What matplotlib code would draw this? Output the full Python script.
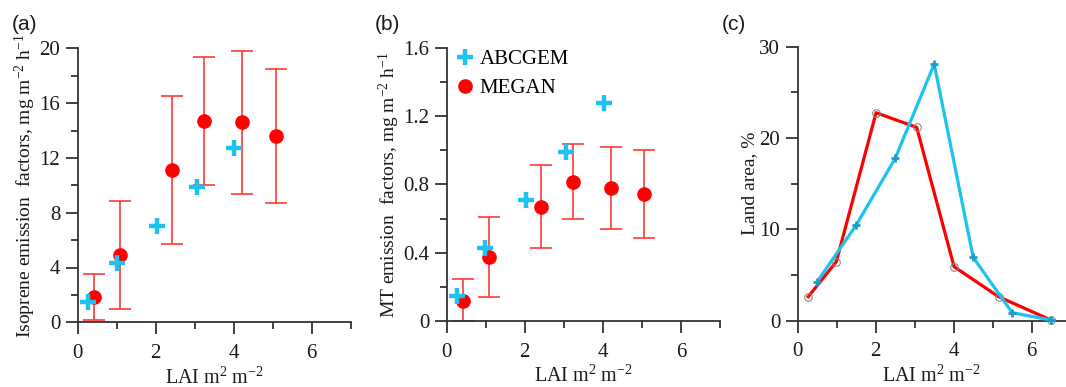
import matplotlib
matplotlib.use("Agg")
import matplotlib.pyplot as plt
from matplotlib.ticker import MultipleLocator, FuncFormatter

plt.rcParams['font.family'] = ['Liberation Serif', 'DejaVu Serif']
plt.rcParams['mathtext.fontset'] = 'custom'
plt.rcParams['mathtext.rm'] = 'Liberation Serif'
plt.rcParams['mathtext.it'] = 'Liberation Serif:italic'

# ---- data ----
# panel (a) isoprene
abc_iso_x = [0.27, 1.0, 2.03, 3.07, 4.01]
abc_iso_y = [1.46, 4.3, 7.05, 9.9, 12.75]
meg_iso_x = [0.42, 1.08, 2.42, 3.24, 4.2, 5.08]
meg_iso_y = [1.87, 4.9, 11.1, 14.7, 14.6, 13.6]
meg_iso_hi = [3.5, 8.85, 16.55, 19.4, 19.8, 18.5]
meg_iso_lo = [0.17, 0.97, 5.7, 10.0, 9.4, 8.7]

# panel (b) monoterpenes
abc_mt_x = [0.26, 0.98, 2.03, 3.06, 4.02]
abc_mt_y = [0.146, 0.425, 0.708, 0.99, 1.274]
meg_mt_x = [0.43, 1.09, 2.42, 3.23, 4.2, 5.06]
meg_mt_y = [0.117, 0.373, 0.667, 0.816, 0.78, 0.743]
meg_mt_hi = [0.244, 0.609, 0.913, 1.036, 1.02, 1.001]
meg_mt_lo = [0.0, 0.142, 0.425, 0.597, 0.539, 0.488]

# panel (c) land area distribution
meg_land_x = [0.27, 0.99, 2.01, 3.05, 4.01, 5.15, 6.49]
meg_land_y = [2.63, 6.46, 22.77, 21.17, 5.91, 2.63, 0.07]
abc_land_x = [0.5, 1.5, 2.5, 3.5, 4.5, 5.5, 6.49]
abc_land_y = [4.27, 10.47, 17.77, 28.1, 6.93, 0.88, 0.07]

CYAN = '#1CC3F0'
CYAN_D = '#1A9EC4'
RED = '#FF0000'
RED_E = '#FF3A3A'
SPINE = '#333333'
TXT = '#1a1a1a'

fig = plt.figure(figsize=(10.66, 3.87), dpi=100)
W, H = 1066, 387

def mkax(left, right, bottom, top):
    return fig.add_axes([left / W, 1 - bottom / H, (right - left) / W, (bottom - top) / H])

axa = mkax(77.7, 350.7, 322.3, 48.3)
axb = mkax(446.7, 720.0, 321.0, 47.7)
axc = mkax(797.7, 1066.0, 320.7, 46.7)

def fmt(v, pos):
    if abs(v) < 1e-9:
        return '0'
    if abs(v - round(v)) < 1e-9:
        return '%d' % round(v)
    return '%.1f' % v

def style(ax, ymaj, ymin):
    for s in ['top', 'right']:
        ax.spines[s].set_visible(False)
    for s in ['left', 'bottom']:
        ax.spines[s].set_color(SPINE)
        ax.spines[s].set_linewidth(1.3)
    ax.xaxis.set_major_locator(MultipleLocator(2))
    ax.xaxis.set_minor_locator(MultipleLocator(1))
    ax.yaxis.set_major_locator(MultipleLocator(ymaj))
    ax.yaxis.set_minor_locator(MultipleLocator(ymin))
    ax.yaxis.set_major_formatter(FuncFormatter(fmt))
    ax.tick_params(axis='both', which='major', direction='out', length=8.6, width=1.3,
                   color=SPINE, labelsize=15, labelcolor=TXT)
    ax.tick_params(axis='both', which='minor', direction='out', length=5, width=1.3, color=SPINE)
    ax.tick_params(axis='x', which='major', pad=7)
    ax.tick_params(axis='y', which='major', pad=4)
    ax.set_xlabel('LAI m$^{2}$ m$^{-2}$', fontsize=14.5, color=TXT, labelpad=3)

# (a)
axa.errorbar(meg_iso_x, meg_iso_y,
             yerr=[[y - l for y, l in zip(meg_iso_y, meg_iso_lo)],
                   [h - y for y, h in zip(meg_iso_y, meg_iso_hi)]],
             fmt='none', ecolor=RED_E, elinewidth=1.2, capsize=8, capthick=1.2, zorder=2)
axa.plot(meg_iso_x, meg_iso_y, 'o', color=RED, ms=9.5, zorder=3, clip_on=False)
axa.plot(abc_iso_x, abc_iso_y, '+', color=CYAN, ms=11, mew=3.2, zorder=4, clip_on=False)
axa.set_xlim(0, 7)
axa.set_ylim(0, 20)
style(axa, 4, 2)
axa.set_ylabel('Isoprene emission  factors, mg m$^{-2}$ h$^{-1}$', fontsize=14, color=TXT, labelpad=1)

# (b)
axb.errorbar(meg_mt_x, meg_mt_y,
             yerr=[[y - l for y, l in zip(meg_mt_y, meg_mt_lo)],
                   [h - y for y, h in zip(meg_mt_y, meg_mt_hi)]],
             fmt='none', ecolor=RED_E, elinewidth=1.2, capsize=8, capthick=1.2, zorder=2, clip_on=False)
axb.plot(meg_mt_x, meg_mt_y, 'o', color=RED, ms=9.5, zorder=3, clip_on=False, label='MEGAN')
axb.plot(abc_mt_x, abc_mt_y, '+', color=CYAN, ms=11, mew=3.2, zorder=4, clip_on=False, label='ABCGEM')
axb.set_xlim(0, 7)
axb.set_ylim(0, 1.6)
style(axb, 0.4, 0.2)
axb.set_ylabel('MT emission  factors, mg m$^{-2}$ h$^{-1}$', fontsize=14, color=TXT, labelpad=1)
h, l = axb.get_legend_handles_labels()
axb.legend([h[1], h[0]], [l[1], l[0]], loc='upper left', bbox_to_anchor=(-0.01, 1.04),
           frameon=False, fontsize=15, handlelength=0.8, handletextpad=0.3,
           labelspacing=0.45, borderaxespad=0.2)

# (c)
axc.plot(meg_land_x, meg_land_y, '-', color=RED, lw=2.3, marker='o', ms=5.5,
         mfc='none', mec='#888888', mew=0.8, clip_on=False, zorder=3)
axc.plot(abc_land_x, abc_land_y, '-', color=CYAN, lw=2.3, marker='+', ms=6,
         mec=CYAN_D, mew=2, clip_on=False, zorder=4)
axc.set_xlim(0, (1066 - 797.7) / 39.0)
axc.set_ylim(0, 30)
style(axc, 10, 5)
axc.set_ylabel('Land area, %', fontsize=14, color=TXT, labelpad=1)

# panel labels
for x, s in [(12, '(a)'), (375, '(b)'), (722, '(c)')]:
    fig.text(x / W, 1 - 24 / H, s, family=['Liberation Sans', 'DejaVu Sans'],
             fontsize=15, color=TXT, va='center', ha='left')

fig.savefig('out.png', dpi=100)
